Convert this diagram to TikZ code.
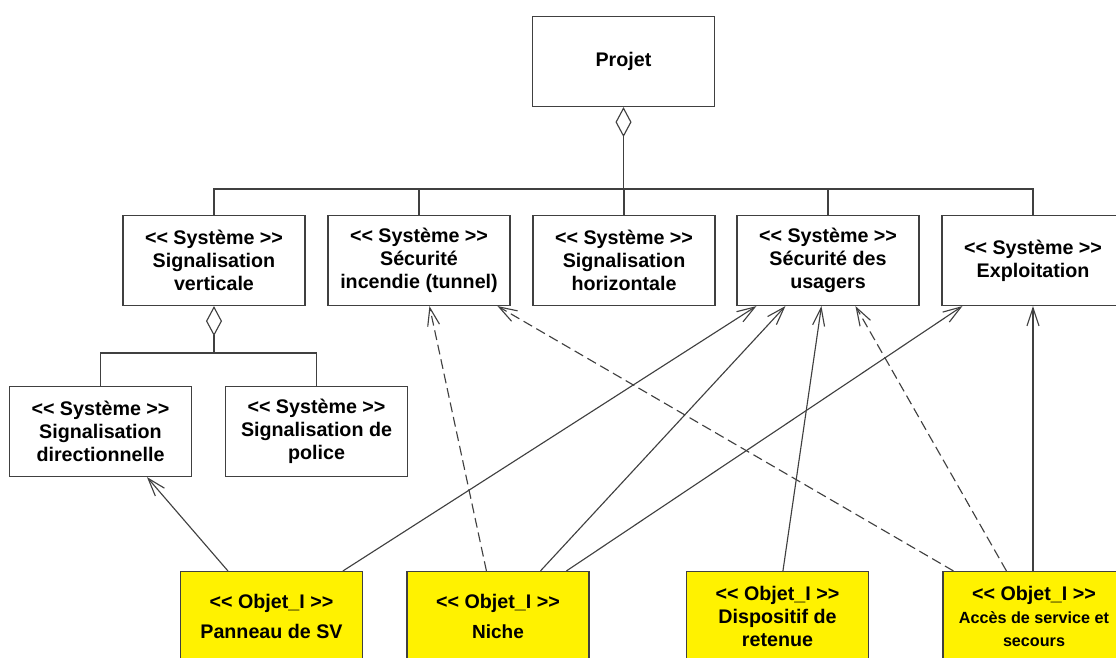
\documentclass[tikz,border=0pt]{standalone}
\usepackage{fontspec}
\setmainfont{Liberation Sans}
\usetikzlibrary{arrows.meta}
\newcommand\stereo[1]{<\kern0pt< #1 >\kern0pt>}

\begin{document}
\begin{tikzpicture}[x=.025cm,y=-.025cm,font=\bfseries\fontsize{14}{16.5}\selectfont,
  box/.style={draw=black!75,line width=.8pt,minimum width=4.55cm,minimum height=2.25cm,align=center,inner sep=0pt},
  objbox/.style={box,fill=yellow},
  lnk/.style={draw=black!75,line width=.8pt,-{Straight Barb[length=4.5mm,width=3mm]}},
  dep/.style={lnk,dash pattern=on 7pt off 3.5pt},
  agg/.style={draw=black!75,line width=.8pt,{Diamond[open,length=7.5mm,width=4mm]}-}]
  \clip (0,0) rectangle (1116,657);
  \fill[white] (0,0) rectangle (1116,657);
  % project and systems
  \node[box] (projet) at (623.5,61.5) {Projet};
  \node[box] (sigv) at (214,260.5) {\stereo{Système}\\Signalisation\\verticale};
  \node[box] (secinc) at (419,260.5) {\stereo{Système}\\Sécurité\\incendie (tunnel)};
  \node[box] (sigh) at (624,260.5) {\stereo{Système}\\Signalisation\\horizontale};
  \node[box] (secusa) at (828,260.5) {\stereo{Système}\\Sécurité des\\usagers};
  \node[box] (expl) at (1033,260.5) {\stereo{Système}\\Exploitation};
  \node[box] (sigdir) at (100.5,431.5) {\stereo{Système}\\Signalisation\\directionnelle};
  \node[box] (sigpol) at (316.5,431.5) {\stereo{Système}\\Signalisation de\\police};
  % objects
  \node[objbox] (pan) at (271.5,616.5) {\stereo{Objet\_I}\\[5pt]Panneau de SV};
  \node[objbox] (niche) at (498,616.5) {\stereo{Objet\_I}\\[5pt]{\fontsize{13.5}{16}\selectfont Niche}};
  \node[objbox] (disp) at (777.5,616.5) {\stereo{Objet\_I}\\Dispositif de\\retenue};
  \node[objbox] (acces) at (1034,616.5) {\stereo{Objet\_I}\\{\fontsize{11.5}{16}\selectfont Accès de service et}\\{\fontsize{11.5}{14}\selectfont secours}};
  % aggregations
  \coordinate (bar) at (623.5,189);
  \draw[agg] (projet.south) -- (bar);
  \foreach \s in {sigv,secinc,sigh,secusa,expl}
    \draw[draw=black!75,line width=.8pt] (bar) -| (\s.north);
  \coordinate (subbar) at (214,353);
  \draw[agg] (sigv.south) -- (subbar);
  \foreach \s in {sigdir,sigpol}
    \draw[draw=black!75,line width=.8pt] (subbar) -| (\s.north);
  % links
  \draw[lnk] ([xshift=1.2cm]pan.north west) -- ([xshift=3.45cm]sigdir.south west);
  \draw[lnk] ([xshift=4.075cm]pan.north west) -- ([xshift=.5cm]secusa.south west);
  \draw[dep] ([xshift=2cm]niche.north west) -- ([xshift=2.55cm]secinc.south west);
  \draw[lnk] ([xshift=3.35cm]niche.north west) -- ([xshift=1.225cm]secusa.south west);
  \draw[lnk] ([xshift=4cm]niche.north west) -- ([xshift=.525cm]expl.south west);
  \draw[lnk] ([xshift=2.425cm]disp.north west) -- ([xshift=2.125cm]secusa.south west);
  \draw[dep] ([xshift=.275cm]acces.north west) -- ([xshift=4.25cm]secinc.south west);
  \draw[dep] ([xshift=1.6cm]acces.north west) -- ([xshift=2.975cm]secusa.south west);
  \draw[lnk] (expl.south |- acces.north) -- (expl.south);
\end{tikzpicture}
\end{document}
